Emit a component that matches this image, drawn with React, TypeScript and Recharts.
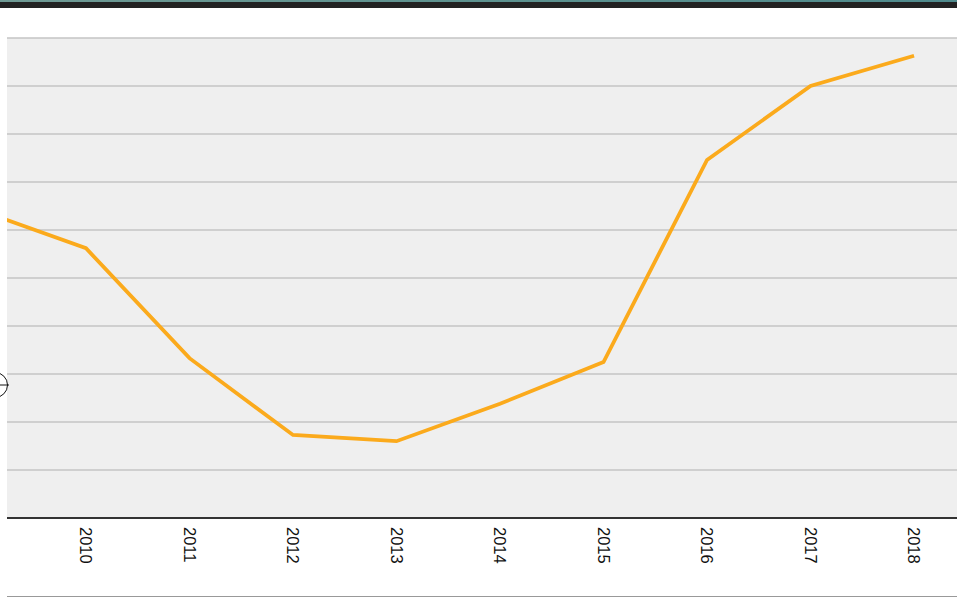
import { ComposedChart, Line, XAxis, YAxis, CartesianGrid } from "recharts";

const years = [2009, 2010, 2011, 2012, 2013, 2014, 2015, 2016, 2017, 2018];
const values = [6.39, 5.62, 3.33, 1.73, 1.6, 2.38, 3.25, 7.46, 9.0, 9.63];
const xTicks = [2010, 2011, 2012, 2013, 2014, 2015, 2016, 2017, 2018];
const yTicks = [0, 1, 2, 3, 4, 5, 6, 7, 8, 9, 10];

const data = years.map((year, i) => ({ year, value: values[i] }));

function YearTick({ x, y, payload }: { x: number; y: number; payload: { value: number } }) {
  return (
    <text
      transform={`translate(${x},${y + 1}) rotate(90)`}
      x={0}
      y={0}
      dy="0.36em"
      textAnchor="start"
      fontFamily="'Liberation Sans', Arial, sans-serif"
      fontSize={16.5}
      fill="#111"
    >
      {payload.value}
    </text>
  );
}

export default function App() {
  return (
    <div
      style={{
        position: "fixed",
        left: 0,
        top: 0,
        width: 957,
        height: 597,
        overflow: "hidden",
        background: "#fff",
      }}
    >
      <div style={{ position: "absolute", left: 0, top: 0, width: 957, height: 2, background: "linear-gradient(90deg,#6f9a94,#5d928f 50%,#4f8a8c)" }} />
      <div style={{ position: "absolute", left: 0, top: 2, width: 957, height: 6, background: "#222" }} />
      <div style={{ position: "absolute", left: 7, top: 596, width: 950, height: 1, background: "#999" }} />
      <div style={{ position: "absolute", left: 0, top: 0 }}>
        <ComposedChart
          width={1000}
          height={597}
          data={data}
          margin={{ top: 38, right: 40, left: 7, bottom: 19 }}
        >
          <CartesianGrid vertical={false} fill="#efefef" stroke="#c4c4c4" strokeWidth={1.5} />
          <XAxis
            type="number"
            dataKey="year"
            domain={[2009.237, 2018.444]}
            allowDataOverflow
            ticks={xTicks}
            tickLine={false}
            tickSize={0}
            tickMargin={8}
            axisLine={{ stroke: "#333", strokeWidth: 2 }}
            height={60}
            interval={0}
            tick={YearTick}
          />
          <YAxis hide type="number" domain={[0, 10]} ticks={yTicks} width={0} />
          <Line
            type="linear"
            dataKey="value"
            stroke="#fbaa1c"
            strokeWidth={3.8}
            dot={false}
            isAnimationActive={false}
          />
        </ComposedChart>
      </div>
      <svg style={{ position: "absolute", left: 0, top: 0 }} width={20} height={597}>
        <circle cx={-5} cy={385} r={12.5} fill="none" stroke="#111" strokeWidth={1} />
        <line x1={0} y1={385} x2={9} y2={385} stroke="#111" strokeWidth={1} />
        <line x1={-5} y1={372} x2={-5} y2={398} stroke="#111" strokeWidth={1} />
      </svg>
    </div>
  );
}
